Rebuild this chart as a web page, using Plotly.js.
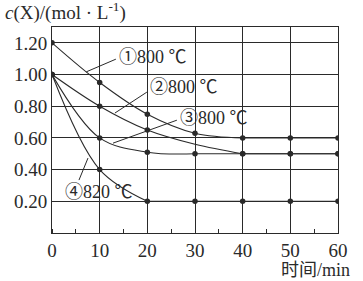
<!DOCTYPE html>
<html>
<head>
<meta charset="utf-8">
<script src="https://cdn.plot.ly/plotly-3.0.1.min.js"></script>
<style>html,body{margin:0;padding:0;background:#fff;}#chart{width:363px;height:281px;}</style>
</head>
<body>
<div id="chart"></div>
<script>
// time (min)
var times = [0, 10, 20, 30, 40, 50, 60];
// c(X) in mol/L for each experiment
var curve1 = [1.20, 0.95, 0.75, 0.63, 0.60, 0.60, 0.60];
var curve2 = [1.00, 0.80, 0.65, 0.56, 0.50, 0.50, 0.50];
var curve3 = [1.00, 0.60, 0.51, 0.50, 0.50, 0.50, 0.50];
var curve4 = [1.00, 0.40, 0.20, 0.20, 0.20, 0.20, 0.20];
// which points carry a dot (1) in the figure
var dots1 = [1, 1, 1, 1, 1, 1, 1];
var dots2 = [1, 1, 1, 0, 1, 1, 1];
var dots3 = [1, 1, 1, 1, 1, 1, 1];
var dots4 = [1, 1, 1, 1, 1, 1, 1];
var curveLabels = ['①800 ℃', '②800 ℃', '③800 ℃', '④820 ℃'];
var yTickVals = [0.20, 0.40, 0.60, 0.80, 1.00, 1.20];
var xTickVals = [0, 10, 20, 30, 40, 50, 60];
var yTitle = '<i>c</i>(X)/(mol · L<sup>-1</sup>)';
var xTitle = '时间/min';

var ink = '#2a2a2a';
var serif = 'Liberation Serif, Noto Sans CJK SC, serif';

var series = [curve1, curve2, curve3, curve4];
var dotFlags = [dots1, dots2, dots3, dots4];
var traces = [];
series.forEach(function (vals, si) {
  // index where the curve becomes flat
  var k = vals.length - 1;
  while (k > 0 && vals[k - 1] === vals[vals.length - 1]) k--;
  traces.push({
    x: times.slice(0, k + 1), y: vals.slice(0, k + 1),
    mode: 'lines', line: {shape: 'spline', smoothing: 1, color: ink, width: 1.1},
    hoverinfo: 'skip', showlegend: false
  });
  traces.push({
    x: times.slice(k), y: vals.slice(k),
    mode: 'lines', line: {color: ink, width: 1.1},
    hoverinfo: 'skip', showlegend: false
  });
  var dx = [], dy = [];
  times.forEach(function (t, i) { if (dotFlags[si][i]) { dx.push(t); dy.push(vals[i]); } });
  traces.push({
    x: dx, y: dy, mode: 'markers',
    marker: {color: ink, size: 5.5},
    hoverinfo: 'skip', showlegend: false
  });
});

// label positions (data coords) and leader lines
var labelPos = [[13.6, 1.11], [20.1, 0.92], [26.4, 0.725], [2.3, 0.26]];
var leaders = [[7.2, 1.017, 13.4, 1.097], [13.2, 0.757, 19.9, 0.889], [12.8, 0.567, 26.2, 0.712], [5.66, 0.334, 7.55, 0.473]];

var annotations = curveLabels.map(function (txt, i) {
  return {x: labelPos[i][0], y: labelPos[i][1], xref: 'x', yref: 'y', text: txt, showarrow: false,
    xanchor: 'left', yanchor: 'middle', font: {family: serif, size: 18, color: ink}};
});
annotations.push({x: -0.171, y: 1.073, xref: 'paper', yref: 'paper', text: yTitle, showarrow: false,
  xanchor: 'left', yanchor: 'middle', font: {family: serif, size: 19, color: ink}});
annotations.push({x: 0.92, y: -0.18, xref: 'paper', yref: 'paper', text: xTitle, showarrow: false,
  xanchor: 'center', yanchor: 'middle', font: {family: serif, size: 18, color: ink}});

var shapes = leaders.map(function (l) {
  return {type: 'line', xref: 'x', yref: 'y', x0: l[0], y0: l[1], x1: l[2], y1: l[3], line: {color: ink, width: 1}};
});

var layout = {
  width: 363, height: 281,
  margin: {l: 52, r: 25, t: 27, b: 48},
  paper_bgcolor: '#fff', plot_bgcolor: '#fff',
  font: {family: serif, size: 18, color: ink},
  xaxis: {
    range: [0, 60], tickvals: xTickVals, ticktext: xTickVals.map(String),
    showgrid: true, gridcolor: ink, gridwidth: 1, zeroline: false,
    showline: true, linecolor: ink, linewidth: 1, mirror: true, ticks: '',
    minor: {ticks: 'inside', ticklen: 4, tickcolor: ink, tickwidth: 1, dtick: 5, tick0: 0, showgrid: false},
    tickfont: {family: serif, size: 19, color: ink}, fixedrange: true
  },
  yaxis: {
    range: [0, 1.3], tickvals: yTickVals, ticktext: yTickVals.map(function (v) { return v.toFixed(2); }),
    showgrid: true, gridcolor: ink, gridwidth: 1, zeroline: false,
    showline: true, linecolor: ink, linewidth: 1, mirror: true, ticks: '',
    tickfont: {family: serif, size: 19, color: ink}, fixedrange: true
  },
  annotations: annotations,
  shapes: shapes
};

Plotly.newPlot('chart', traces, layout, {displayModeBar: false, staticPlot: true});
</script>
</body>
</html>
